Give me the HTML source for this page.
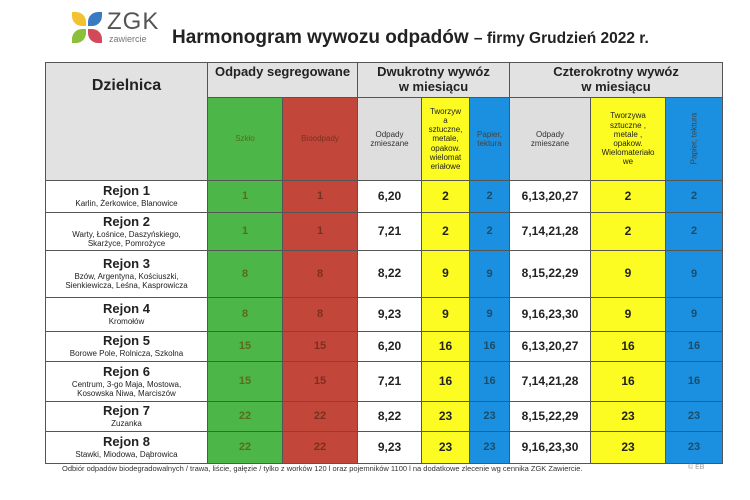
<!DOCTYPE html>
<html><head><meta charset="utf-8"><style>
body{margin:0;width:750px;height:500px;background:#fff;font-family:"Liberation Sans",sans-serif;position:relative;overflow:hidden}
table{position:absolute;left:45px;top:62px;border-collapse:collapse;table-layout:fixed;width:677px}
td{border:1px solid #555;padding:0;text-align:center;vertical-align:middle;overflow:hidden;line-height:1.15}
.h{background:#e2e2e2;font-weight:bold;font-size:13px;color:#222}
.g{background:#4db648;color:#5a6a20;font-weight:bold;font-size:11px}
.r{background:#c2473a;color:#7a3020;font-weight:bold;font-size:11px}
.y{background:#fcfc22;color:#222;font-weight:bold;font-size:12px}
.b{background:#1b90e0;color:#1a4d6a;font-weight:bold;font-size:11px}
.gr{background:#dedede;font-size:8px;color:#333}
.w{font-weight:bold;font-size:12px;color:#222}
.n{font-size:8px;color:#222}
.n b{font-size:13px;display:block;color:#222}
</style></head><body>
<div style="position:absolute;left:72px;top:12px;width:14px;height:14px;background:#f2c230;border-radius:0 10px 0 10px"></div>
<div style="position:absolute;left:88px;top:12px;width:14px;height:14px;background:#3a7ac0;border-radius:10px 0 10px 0"></div>
<div style="position:absolute;left:72px;top:29px;width:14px;height:14px;background:#8cc03a;border-radius:10px 0 10px 0"></div>
<div style="position:absolute;left:88px;top:29px;width:14px;height:14px;background:#d24a5a;border-radius:0 10px 0 10px"></div>
<div style="position:absolute;left:107px;top:8px;font-size:24px;color:#555;letter-spacing:1px">ZGK</div>
<div style="position:absolute;left:109px;top:34px;font-size:9px;color:#777">zawiercie</div>
<div style="position:absolute;left:172px;top:27px;font-size:19px;font-weight:bold;color:#222;white-space:nowrap">Harmonogram wywozu odpadów <span style="font-size:15.5px">– firmy Grudzień 2022 r.</span></div>
<table>
<colgroup><col style="width:162px"><col style="width:75px"><col style="width:75px"><col style="width:64px"><col style="width:48px"><col style="width:40px"><col style="width:81px"><col style="width:75px"><col style="width:57px"></colgroup>
<tr style="height:35px"><td class="h" rowspan="2" style="font-size:16px;vertical-align:top;padding-top:14px">Dzielnica</td><td class="h" colspan="2" style="vertical-align:top;padding-top:2px">Odpady segregowane</td><td class="h" colspan="3">Dwukrotny wywóz<br>w miesiącu</td><td class="h" colspan="3">Czterokrotny wywóz<br>w miesiącu</td></tr>
<tr style="height:83px"><td class="g" style="font-weight:normal;font-size:8px">Szkło</td><td class="r" style="font-weight:normal;font-size:8px">Bioodpady</td><td class="gr">Odpady<br>zmieszane</td><td class="y" style="font-weight:normal;font-size:8px">Tworzyw<br>a<br>sztuczne,<br>metale,<br>opakow.<br>wielomat<br>eriałowe</td><td class="b" style="font-weight:normal;font-size:8px;color:#444">Papier,<br>tektura</td><td class="gr">Odpady<br>zmieszane</td><td class="y" style="font-weight:normal;font-size:8px">Tworzywa<br>sztuczne ,<br>metale ,<br>opakow.<br>Wielomateriało<br>we</td><td class="b" style="font-weight:normal;font-size:8px;color:#444"><div style="transform:rotate(-90deg);white-space:nowrap">Papier, tektura</div></td></tr>
<tr style="height:32px"><td class="n"><b>Rejon 1</b>Karlin, Żerkowice, Blanowice</td><td class="g">1</td><td class="r">1</td><td class="w">6,20</td><td class="y">2</td><td class="b">2</td><td class="w">6,13,20,27</td><td class="y">2</td><td class="b">2</td></tr>
<tr style="height:38px"><td class="n"><b>Rejon 2</b>Warty, Łośnice, Daszyńskiego,<br>Skarżyce, Pomrożyce</td><td class="g">1</td><td class="r">1</td><td class="w">7,21</td><td class="y">2</td><td class="b">2</td><td class="w">7,14,21,28</td><td class="y">2</td><td class="b">2</td></tr>
<tr style="height:47px"><td class="n"><b>Rejon 3</b>Bzów, Argentyna, Kościuszki,<br>Sienkiewicza, Leśna, Kasprowicza</td><td class="g">8</td><td class="r">8</td><td class="w">8,22</td><td class="y">9</td><td class="b">9</td><td class="w">8,15,22,29</td><td class="y">9</td><td class="b">9</td></tr>
<tr style="height:34px"><td class="n"><b>Rejon 4</b>Kromołów</td><td class="g">8</td><td class="r">8</td><td class="w">9,23</td><td class="y">9</td><td class="b">9</td><td class="w">9,16,23,30</td><td class="y">9</td><td class="b">9</td></tr>
<tr style="height:30px"><td class="n"><b>Rejon 5</b>Borowe Pole, Rolnicza, Szkolna</td><td class="g">15</td><td class="r">15</td><td class="w">6,20</td><td class="y">16</td><td class="b">16</td><td class="w">6,13,20,27</td><td class="y">16</td><td class="b">16</td></tr>
<tr style="height:40px"><td class="n"><b>Rejon 6</b>Centrum, 3-go Maja, Mostowa,<br>Kosowska Niwa, Marciszów</td><td class="g">15</td><td class="r">15</td><td class="w">7,21</td><td class="y">16</td><td class="b">16</td><td class="w">7,14,21,28</td><td class="y">16</td><td class="b">16</td></tr>
<tr style="height:30px"><td class="n"><b>Rejon 7</b>Zuzanka</td><td class="g">22</td><td class="r">22</td><td class="w">8,22</td><td class="y">23</td><td class="b">23</td><td class="w">8,15,22,29</td><td class="y">23</td><td class="b">23</td></tr>
<tr style="height:32px"><td class="n"><b>Rejon 8</b>Stawki, Miodowa, Dąbrowica</td><td class="g">22</td><td class="r">22</td><td class="w">9,23</td><td class="y">23</td><td class="b">23</td><td class="w">9,16,23,30</td><td class="y">23</td><td class="b">23</td></tr>
</table>
<div style="position:absolute;left:62px;top:464px;font-size:7.5px;color:#333;white-space:nowrap">Odbiór odpadów biodegradowalnych / trawa, liście, gałęzie / tylko z worków 120 l oraz pojemników 1100 l na dodatkowe zlecenie wg cennika ZGK Zawiercie.</div>
<div style="position:absolute;left:688px;top:464px;font-size:7px;color:#999">© EB</div>
</body></html>
